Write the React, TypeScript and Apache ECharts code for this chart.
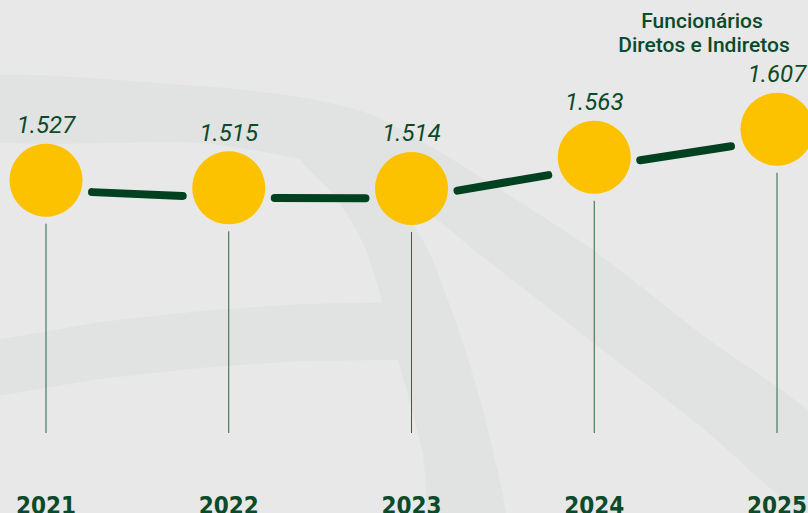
import React, { useEffect, useRef } from 'react';
import * as echarts from 'echarts';

// ---- data ----
const years: string[] = ['2021', '2022', '2023', '2024', '2025'];
const employees: number[] = [1527, 1515, 1514, 1563, 1607];
const titleLines: string[] = ['Funcionários', 'Diretos e Indiretos'];

const Y_MIN = 1130;
const Y_MAX = 1810;

const GREEN = '#004220';
const TEXT_GREEN = '#0b4a2a';
const YELLOW = '#fcc200';
const BG = '#e8e8e8';
const BAND = '#e1e3e2';
const R = 36.5;

const fmt = (n: number) => String(n).replace(/\B(?=(\d{3})+(?!\d))/g, '.');

const pts = (a: number[][]) => a.map((p) => [p[0], p[1]]);

export default function App() {
  const ref = useRef<HTMLDivElement>(null);

  useEffect(() => {
    if (!ref.current) return;
    const chart = echarts.init(ref.current, null, { renderer: 'svg' });
    const seriesData = years.map((_, i) => [i, employees[i]]);

    const titleStyle = {
      fill: TEXT_GREEN,
      fontSize: 21,
      fontWeight: 500,
      fontFamily: "'Roboto', sans-serif",
      textAlign: 'center',
      textVerticalAlign: 'middle',
    };

    const option: any = {
      animation: false,
      backgroundColor: BG,
      grid: { left: 46, right: 31, top: 0, bottom: 80, outerBoundsMode: 'none', containLabel: false },
      xAxis: {
        type: 'category',
        data: years,
        boundaryGap: false,
        z: 3,
        axisLine: { show: false },
        axisTick: { show: false },
        splitLine: { show: false },
        axisLabel: {
          interval: 0,
          margin: 61,
          color: TEXT_GREEN,
          fontSize: 24,
          fontWeight: 'bold',
          fontFamily: "'DejaVu Sans Condensed', 'Liberation Sans Narrow', sans-serif",
        },
      },
      yAxis: {
        type: 'value',
        min: Y_MIN,
        max: Y_MAX,
        show: false,
        splitLine: { show: false },
      },
      graphic: {
        elements: [
          {
            type: 'polygon',
            z: 0,
            silent: true,
            shape: {
              smooth: 0.25,
              points: pts([
                [-40, 78], [200, 86], [300, 97], [370, 114], [430, 146], [520, 202],
                [593, 250], [700, 333], [840, 442], [840, 540], [700, 426], [600, 348],
                [474, 250], [420, 206], [370, 178], [290, 157], [200, 143], [-40, 137],
              ]),
            },
            style: { fill: BAND },
          },
          {
            type: 'polygon',
            z: 0,
            silent: true,
            shape: {
              smooth: 0.25,
              points: pts([
                [300, 158], [335, 196], [366, 250], [398, 360], [422, 450], [436, 540],
                [505, 540], [488, 430], [462, 340], [428, 250], [396, 200], [350, 165],
              ]),
            },
            style: { fill: BAND },
          },
          {
            type: 'polygon',
            z: 0,
            silent: true,
            shape: {
              points: pts([
                [-40, 346], [100, 322], [200, 311], [300, 304], [400, 302],
                [405, 360], [300, 361], [200, 368], [100, 379], [-40, 402],
              ]),
            },
            style: { fill: BAND },
          },
          {
            type: 'text',
            z: 10,
            x: 702,
            y: 20.5,
            style: { ...titleStyle, text: titleLines[0] },
          },
          {
            type: 'text',
            z: 10,
            x: 704,
            y: 45.3,
            style: { ...titleStyle, text: titleLines[1] },
          },
        ],
      },
      series: [
        {
          type: 'custom',
          name: 'stems',
          z: 4,
          data: seriesData,
          renderItem: (params: any, api: any) => {
            const i = params.dataIndex;
            const c = api.coord([i, employees[i]]);
            const b = api.coord([i, Y_MIN]);
            return {
              type: 'line',
              shape: { x1: c[0], y1: c[1] + R + 7, x2: b[0], y2: b[1] },
              style: { stroke: '#2a6546', lineWidth: 1 },
            };
          },
        },
        {
          type: 'custom',
          name: 'connectors',
          z: 5,
          data: seriesData,
          renderItem: (params: any, api: any) => {
            const i = params.dataIndex;
            if (i >= employees.length - 1) return { type: 'group', children: [] };
            const p1 = api.coord([i, employees[i]]);
            const p2 = api.coord([i + 1, employees[i + 1]]);
            const dx = p2[0] - p1[0];
            const slope = (p2[1] - p1[1]) / dx;
            const xs = p1[0] + 46;
            const xe = p2[0] - 46;
            const off = 10;
            return {
              type: 'line',
              shape: {
                x1: xs,
                y1: p1[1] + slope * (xs - p1[0]) + off,
                x2: xe,
                y2: p1[1] + slope * (xe - p1[0]) + off,
              },
              style: { stroke: GREEN, lineWidth: 8, lineCap: 'round' },
            };
          },
        },
        {
          type: 'scatter',
          name: 'Funcionários',
          z: 6,
          data: seriesData,
          symbol: 'circle',
          symbolSize: R * 2,
          itemStyle: { color: YELLOW, opacity: 1 },
          label: {
            show: true,
            position: 'inside',
            offset: [0, -55],
            formatter: (p: any) => fmt(employees[p.dataIndex]),
            color: TEXT_GREEN,
            fontSize: 24,
            fontStyle: 'italic',
            fontWeight: 400,
            fontFamily: "'Roboto', sans-serif",
          },
          emphasis: { disabled: true },
        },
      ],
    };

    chart.setOption(option);
    return () => chart.dispose();
  }, []);

  return (
    <div
      ref={ref}
      style={{ position: 'fixed', left: 0, top: 0, width: 808, height: 513 }}
    />
  );
}
